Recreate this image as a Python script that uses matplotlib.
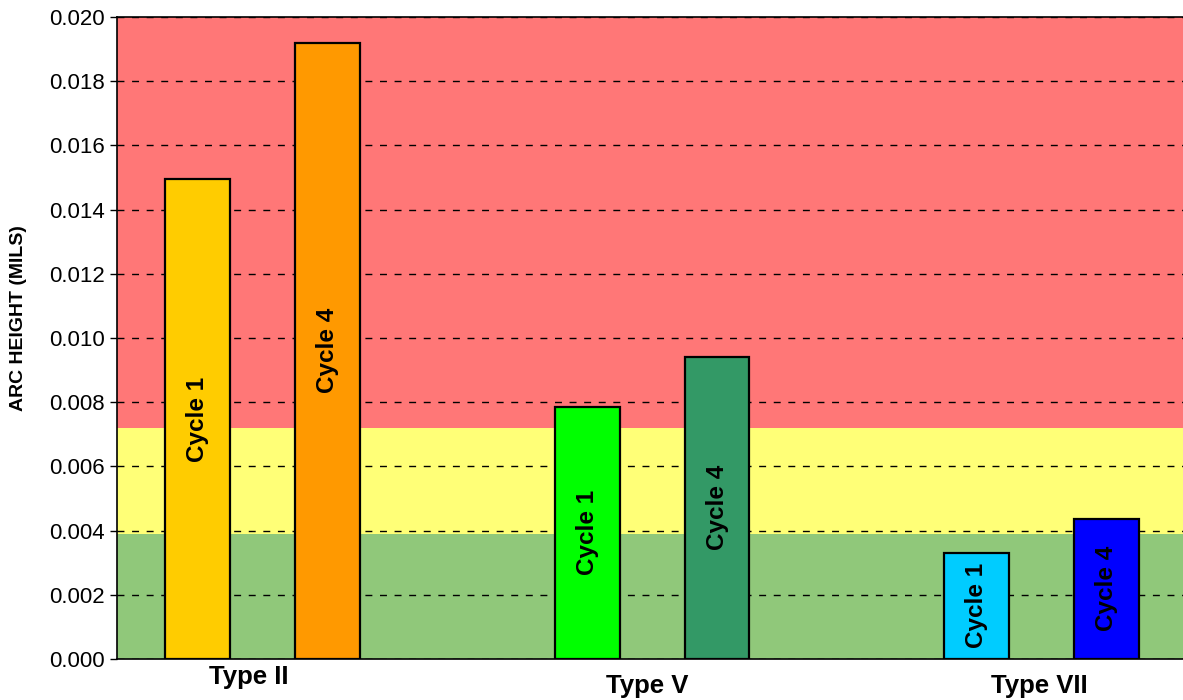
import numpy as np
import matplotlib.pyplot as plt

plt.rcParams['font.family'] = ['Liberation Sans', 'DejaVu Sans']

# arc height per specimen type, two cycles each
types = ['Type II', 'Type V', 'Type VII']
cycles = ['Cycle 1', 'Cycle 4']
cycle1 = [0.01495, 0.00786, 0.00331]
cycle4 = [0.01920, 0.00942, 0.00437]
colors1 = ['#FFCC00', '#00FF00', '#00CCFF']
colors4 = ['#FF9900', '#339966', '#0000FF']

# acceptance zones (mils)
zone_green = 0.0039
zone_yellow = 0.0072
ymax = 0.020

fig = plt.figure(figsize=(11.83, 7.0), dpi=100)
ax = fig.add_axes([117 / 1183, 41 / 700, 1 - 117 / 1183, 642 / 700])

ax.axhspan(0, zone_green, color='#90C87A', zorder=0.1, lw=0)
ax.axhspan(zone_green, zone_yellow, color='#FFFF77', zorder=0.1, lw=0)
ax.axhspan(zone_yellow, ymax, color='#FF7777', zorder=0.1, lw=0)

x = np.arange(len(types)) * 3.0
w = 0.5
b1 = ax.bar(x - 0.5, cycle1, w, color=colors1, edgecolor='black', lw=1.6, zorder=2)
b4 = ax.bar(x + 0.5, cycle4, w, color=colors4, edgecolor='black', lw=1.6, zorder=2)

for bars, name in [(b1, cycles[0]), (b4, cycles[1])]:
    for r in bars:
        ax.text(r.get_x() + r.get_width() / 2, r.get_height() / 2, name,
                rotation=90, ha='center', va='center', fontsize=17.5,
                fontweight='bold', zorder=3)

ax.set_xlim(-1.123, 7.09)
ax.set_ylim(0, ymax)
ax.set_yticks(np.arange(0, 0.0201, 0.002))
ax.set_yticklabels([f'{v:.3f}' for v in np.arange(0, 0.0201, 0.002)])
ax.tick_params(axis='y', labelsize=16, length=5, width=1, direction='out', pad=4)
ax.tick_params(axis='x', length=0)
ax.set_xticks([])

ax.set_axisbelow(True)
ax.yaxis.grid(True, color='black', lw=1, linestyle=(0, (5, 5.5)))

for s in ['left', 'top', 'bottom']:
    ax.spines[s].set_color('black')
    ax.spines[s].set_linewidth(1.2)
ax.spines['right'].set_visible(False)

# category labels under each pair
label_dx = [-0.11, -0.04, -0.02]
label_dy = [-18, -27, -27]
for xi, t, dx, dy in zip(x, types, label_dx, label_dy):
    ax.annotate(t, (xi + dx, 0), xytext=(0, dy), textcoords='offset pixels',
                ha='center', va='center', fontsize=18.5, fontweight='bold',
                annotation_clip=False)

fig.text(19 / 1183, 1 - 318 / 700, 'ARC HEIGHT (MILS)', rotation=90,
         ha='center', va='center', fontsize=14, fontweight='bold')

fig.savefig('out.png', dpi=100)
